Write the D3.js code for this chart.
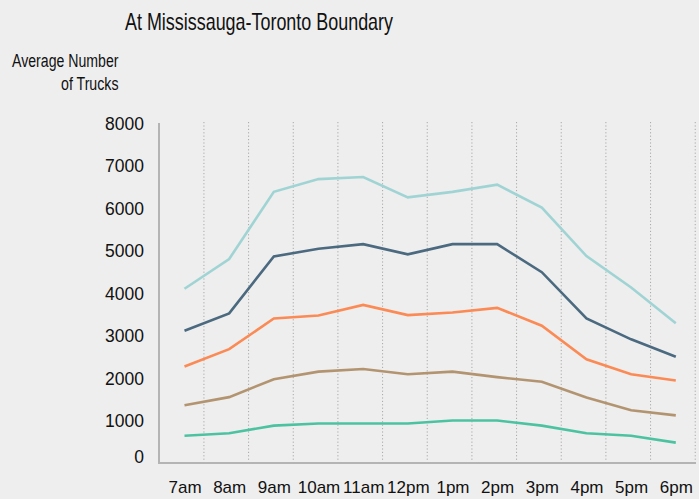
<!DOCTYPE html>
<html>
<head>
<meta charset="utf-8">
<script src="https://cdn.jsdelivr.net/npm/d3@7"></script>
<style>
  html, body { margin: 0; padding: 0; background: #eeeeee; }
  svg { display: block; }
  text { font-family: "Liberation Sans", Arial, Helvetica, sans-serif; fill: #111; }
</style>
</head>
<body>
<svg id="chart" width="699" height="499"></svg>
<script>
// Hours of the day (x categories)
const hours = ["7am", "8am", "9am", "10am", "11am", "12pm", "1pm", "2pm", "3pm", "4pm", "5pm", "6pm"];
const yTicks = [0, 1000, 2000, 3000, 4000, 5000, 6000, 7000, 8000];

// Average truck counts per hour, one array per series (top to bottom)
const seriesTeal   = [4100, 4800, 6380, 6680, 6730, 6250, 6380, 6550, 6010, 4870, 4130, 3290];
const seriesNavy   = [3110, 3520, 4860, 5040, 5150, 4910, 5150, 5150, 4490, 3400, 2910, 2500];
const seriesOrange = [2270, 2680, 3400, 3470, 3720, 3480, 3540, 3650, 3230, 2440, 2090, 1940];
const seriesTan    = [1360, 1550, 1970, 2150, 2210, 2090, 2150, 2020, 1910, 1540, 1240, 1120];
const seriesGreen  = [640, 700, 880, 930, 930, 930, 1000, 1000, 880, 700, 640, 480];

const seriesColors = ["#a0d4d4", "#4b6a80", "#fb8a55", "#b39470", "#4cc3a0"];
const allSeries = [seriesTeal, seriesNavy, seriesOrange, seriesTan, seriesGreen];

const svg = d3.select("#chart");

const plot = { left: 159, right: 696, top: 123, bottom: 463 };

// Point positions for each hour
const x = d3.scaleLinear().domain([0, hours.length - 1]).range([184.5, 675.8]);
const y = d3.scaleLinear().domain([0, 8000]).range([plot.bottom, plot.top]);

// Title
svg.append("text")
  .attr("x", 125).attr("y", 29.5)
  .attr("textLength", 268).attr("lengthAdjust", "spacingAndGlyphs")
  .style("font-size", "24px")
  .text("At Mississauga-Toronto Boundary");

// Y axis title (two lines, right aligned)
svg.append("text")
  .attr("x", 118.5).attr("y", 66.5)
  .attr("text-anchor", "end")
  .attr("textLength", 106.5).attr("lengthAdjust", "spacingAndGlyphs")
  .style("font-size", "18px")
  .text("Average Number");
svg.append("text")
  .attr("x", 118.5).attr("y", 90)
  .attr("text-anchor", "end")
  .attr("textLength", 57.5).attr("lengthAdjust", "spacingAndGlyphs")
  .style("font-size", "18px")
  .text("of Trucks");

// Dotted vertical separators between hours
const gridPos = d3.range(hours.length).map(i => x(i + 0.435));
svg.append("g")
  .selectAll("line")
  .data(gridPos)
  .join("line")
  .attr("x1", d => d).attr("x2", d => d)
  .attr("y1", plot.top - 1).attr("y2", plot.bottom)
  .attr("stroke", "#a8a8a8")
  .attr("stroke-width", 1)
  .attr("stroke-dasharray", "1.2,2.2");

// Y axis tick labels
const yAxis = d3.axisLeft(y).tickValues(yTicks).tickSize(0).tickPadding(15)
  .tickFormat(d3.format("d"));
const gy = svg.append("g").attr("transform", `translate(${plot.left},0)`).call(yAxis);
gy.select(".domain").remove();
gy.selectAll("text")
  .style("font-family", "\"Liberation Sans\", Arial, sans-serif")
  .style("font-size", "17.5px")
  .attr("fill", "#111")
  .attr("dy", d => d === 0 ? "-0.02em" : "0.36em");

// X axis labels
const xAxis = d3.axisBottom(x).tickValues(d3.range(hours.length)).tickSize(0).tickPadding(18)
  .tickFormat(i => hours[i]);
const gx = svg.append("g").attr("transform", `translate(0,${plot.bottom})`).call(xAxis);
gx.select(".domain").remove();
gx.selectAll("text")
  .style("font-family", "\"Liberation Sans\", Arial, sans-serif")
  .style("font-size", "17px")
  .attr("fill", "#111");

// Axis lines
svg.append("line")
  .attr("x1", plot.left).attr("x2", plot.left)
  .attr("y1", plot.top).attr("y2", plot.bottom)
  .attr("stroke", "#b4b4b4").attr("stroke-width", 2);
svg.append("line")
  .attr("x1", plot.left - 1).attr("x2", plot.right)
  .attr("y1", plot.bottom).attr("y2", plot.bottom)
  .attr("stroke", "#b4b4b4").attr("stroke-width", 2);

// Series lines
const line = d3.line().x((d, i) => x(i)).y(d => y(d));
svg.append("g")
  .selectAll("path")
  .data(allSeries)
  .join("path")
  .attr("d", d => line(d))
  .attr("fill", "none")
  .attr("stroke", (d, i) => seriesColors[i])
  .attr("stroke-width", 2.6)
  .attr("stroke-linejoin", "miter");
</script>
</body>
</html>
